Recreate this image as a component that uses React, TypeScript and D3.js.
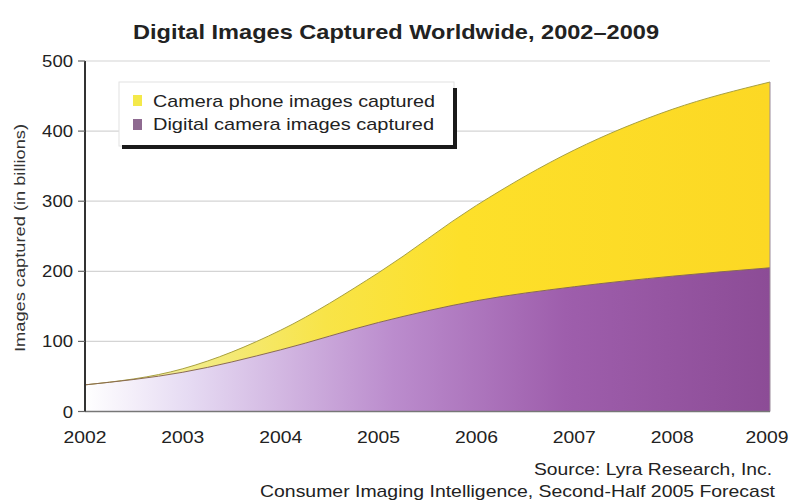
import React from "react";
import * as d3 from "d3";

const years = [2002, 2003, 2004, 2005, 2006, 2007, 2008, 2009];
const digitalCamera = [38, 56, 88, 127, 158, 178, 193, 205];
const cameraPhone = [0, 5, 28, 71, 136, 195, 238, 265];
const yTicks = [0, 100, 200, 300, 400, 500];
const seriesNames = ["Camera phone images captured", "Digital camera images captured"];

const W = 793, H = 503;
const x = d3.scaleLinear().domain([2002, 2009]).range([85, 770]);
const y = d3.scaleLinear().domain([0, 500]).range([411.5, 61]);

export default function App() {
  const data = years.map((yr, i) => ({ yr, d: digitalCamera[i], p: cameraPhone[i] }));
  const purpleArea = d3.area<any>().x(v => x(v.yr)).y0(y(0)).y1(v => y(v.d)).curve(d3.curveMonotoneX)(data) || "";
  const yellowArea = d3.area<any>().x(v => x(v.yr)).y0(v => y(v.d)).y1(v => y(v.d + v.p)).curve(d3.curveMonotoneX)(data) || "";
  const purpleLine = d3.line<any>().x(v => x(v.yr)).y(v => y(v.d)).curve(d3.curveMonotoneX)(data) || "";
  const yellowLine = d3.line<any>().x(v => x(v.yr)).y(v => y(v.d + v.p)).curve(d3.curveMonotoneX)(data) || "";
  const font = "Liberation Sans, Arial, Helvetica, sans-serif";
  const last = data[data.length - 1];
  return (
    <svg width={W} height={H} style={{ position: "absolute", left: 0, top: 0, background: "#fff" }} fontFamily={font}>
      <defs>
        <linearGradient id="pg" x1={x(2002)} x2={x(2009)} y1="0" y2="0" gradientUnits="userSpaceOnUse">
          <stop offset="0" stopColor="#ffffff" />
          <stop offset="0.15" stopColor="#e6dbf3" />
          <stop offset="0.45" stopColor="#bb8ccd" />
          <stop offset="0.7" stopColor="#9e5eac" />
          <stop offset="1" stopColor="#8c4c96" />
        </linearGradient>
        <linearGradient id="yg" x1={x(2002)} x2={x(2009)} y1="0" y2="0" gradientUnits="userSpaceOnUse">
          <stop offset="0" stopColor="#f4f2c8" />
          <stop offset="0.15" stopColor="#f2ec8a" />
          <stop offset="0.35" stopColor="#f8e448" />
          <stop offset="0.55" stopColor="#fde02a" />
          <stop offset="1" stopColor="#fcd824" />
        </linearGradient>
      </defs>
      <text x={396} y={39} textAnchor="middle" fontSize={21} fontWeight="bold" fill="#222"
        textLength={526} lengthAdjust="spacingAndGlyphs">
        Digital Images Captured Worldwide, 2002–2009
      </text>
      {yTicks.filter(t => t > 0).map(t => (
        <line key={"g" + t} x1={x(2002)} x2={x(2009)} y1={y(t)} y2={y(t)} stroke="#d4d4d4" strokeWidth={1.2} />
      ))}
      <path d={yellowArea} fill="url(#yg)" />
      <path d={purpleArea} fill="url(#pg)" />
      <path d={yellowLine} fill="none" stroke="#a8a040" strokeWidth={1} />
      <path d={purpleLine} fill="none" stroke="#8a6a50" strokeWidth={1} />
      <line x1={x(last.yr)} x2={x(last.yr)} y1={y(last.d + last.p)} y2={y(0)} stroke="#9a8a9a" strokeWidth={1} />
      <line x1={x(2002)} x2={x(2009)} y1={y(0)} y2={y(0)} stroke="#777" strokeWidth={1.5} />
      <line x1={x(2002)} x2={x(2002)} y1={y(500)} y2={y(0)} stroke="#333" strokeWidth={2} />
      {yTicks.map(t => {
        const s = String(t);
        return (
          <g key={"t" + t}>
            <line x1={x(2002) - 7} x2={x(2002)} y1={y(t)} y2={y(t)} stroke="#666" strokeWidth={1.2} />
            <text x={x(2002) - 12} y={y(t) + 6} textAnchor="end" fontSize={16} fill="#222"
              textLength={s.length * 10.3} lengthAdjust="spacingAndGlyphs">{s}</text>
          </g>
        );
      })}
      {years.map(yr => (
        <text key={"x" + yr} x={x(yr) - (yr === 2009 ? 3 : 0)} y={443} textAnchor="middle" fontSize={16.5} fill="#222"
          textLength={43} lengthAdjust="spacingAndGlyphs">{yr}</text>
      ))}
      <text transform={`translate(25,${238}) rotate(-90)`} textAnchor="middle" fontSize={15.5} fill="#333"
        textLength={228} lengthAdjust="spacingAndGlyphs">
        Images captured (in billions)
      </text>
      <g>
        <rect x={119} y={82} width={335} height={64} fill="#fff" stroke="#e2e2e2" strokeWidth={1} />
        <rect x={122} y={145} width={335} height={4} fill="#1a1a1a" />
        <rect x={453} y={88} width={4} height={61} fill="#1a1a1a" />
        <rect x={133} y={95} width={9} height={11} fill="#f4e94a" />
        <rect x={133} y={119} width={9} height={11} fill="#8e6a90" />
        <text x={153} y={107} fontSize={17} fill="#222" textLength={282} lengthAdjust="spacingAndGlyphs">{seriesNames[0]}</text>
        <text x={153} y={130} fontSize={17} fill="#222" textLength={281} lengthAdjust="spacingAndGlyphs">{seriesNames[1]}</text>
      </g>
      <text x={772} y={475} textAnchor="end" fontSize={17} fill="#222" textLength={238} lengthAdjust="spacingAndGlyphs">Source: Lyra Research, Inc.</text>
      <text x={775} y={497} textAnchor="end" fontSize={17} fill="#222" textLength={515} lengthAdjust="spacingAndGlyphs">Consumer Imaging Intelligence, Second-Half 2005 Forecast</text>
    </svg>
  );
}
